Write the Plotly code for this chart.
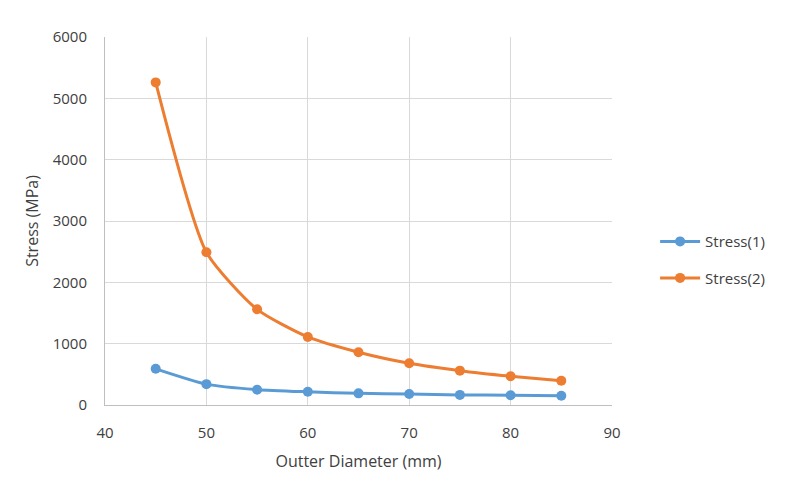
import plotly.graph_objects as go

diameter = [45, 50, 55, 60, 65, 70, 75, 80, 85]
stress1 = [590, 340, 250, 215, 190, 180, 165, 160, 150]
stress2 = [5260, 2490, 1560, 1110, 860, 680, 560, 470, 395]

fig = go.Figure()
fig.add_trace(go.Scatter(x=diameter, y=stress1, name="Stress(1)", mode="lines+markers",
                         legendgroup="a",
                         line=dict(color="#5B9BD5", width=3, shape="spline", smoothing=0.6),
                         marker=dict(size=10, color="#5B9BD5")))
fig.add_trace(go.Scatter(x=diameter, y=stress2, name="Stress(2)", mode="lines+markers",
                         legendgroup="b",
                         line=dict(color="#ED7D31", width=3, shape="spline", smoothing=0.6),
                         marker=dict(size=10, color="#ED7D31")))

font_family = "Open Sans, Liberation Sans, sans-serif"
txt = "#404040"
fig.update_layout(
    width=806, height=492,
    margin=dict(l=105, r=194, t=37, b=87),
    paper_bgcolor="white", plot_bgcolor="white",
    font=dict(family=font_family, size=15, color=txt),
    legend=dict(x=1.085, y=0.395, xanchor="left", yanchor="middle",
                font=dict(size=15, color=txt), tracegroupgap=14,
                traceorder="grouped", itemwidth=40),
    xaxis=dict(range=[40, 90], dtick=10, tick0=40, showgrid=True, gridcolor="#d9d9d9",
               showline=True, linecolor="#bfbfbf", ticks="", zeroline=False,
               ticklabelstandoff=14,
               title=dict(text="Outter Diameter (mm)", font=dict(size=16, color=txt), standoff=14)),
    yaxis=dict(range=[0, 6000], dtick=1000, showgrid=True, gridcolor="#d9d9d9",
               showline=True, linecolor="#bfbfbf", ticks="", zeroline=False,
               ticklabelstandoff=14,
               title=dict(text="Stress (MPa)", font=dict(size=16, color=txt), standoff=10)),
)
fig.write_html("out.html")
